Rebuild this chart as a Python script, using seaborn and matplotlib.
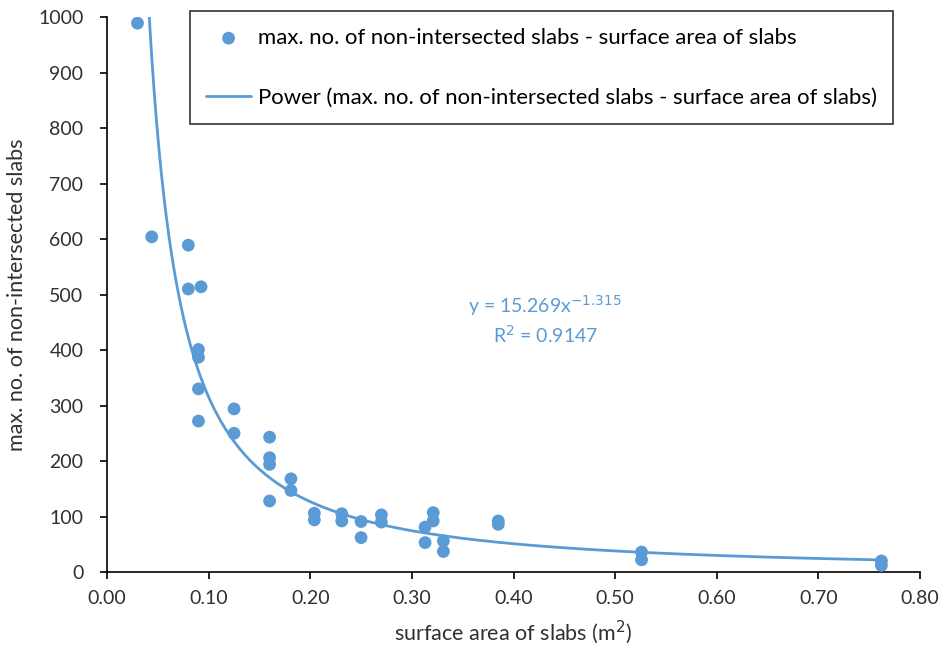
import numpy as np
import pandas as pd
import seaborn as sns
import matplotlib.pyplot as plt

# surface area of slabs (m2) and max. no. of non-intersected slabs
area = [0.030, 0.044, 0.080, 0.080, 0.0925, 0.090, 0.090, 0.090, 0.090,
        0.125, 0.125, 0.160, 0.160, 0.160, 0.160, 0.181, 0.181,
        0.204, 0.204, 0.231, 0.231, 0.250, 0.250, 0.270, 0.270,
        0.313, 0.313, 0.321, 0.321, 0.331, 0.331, 0.385, 0.385,
        0.526, 0.526, 0.762, 0.762]
slabs = [989, 604, 589, 510, 514, 401, 387, 330, 272,
         294, 250, 243, 206, 194, 128, 168, 147,
         106, 94, 105, 92, 91, 62, 103, 90,
         81, 53, 107, 92, 56, 37, 92, 86,
         36, 22, 20, 12]

# power trendline shown on the chart
coef_a = 15.269
coef_b = -1.315
r2 = 0.9147

blue = "#5B9BD5"
dark = "#303030"

sns.set_style("white")
plt.rcParams["font.family"] = ["Lato", "DejaVu Sans"]

df = pd.DataFrame({"area": area, "slabs": slabs})
x_fit = np.linspace((1000 / coef_a) ** (1 / coef_b), max(area), 300)
fit = pd.DataFrame({"area": x_fit, "slabs": coef_a * x_fit ** coef_b})

fig = plt.figure(figsize=(9.47, 6.56), dpi=100)
ax = fig.add_axes([0.113, 0.128, 0.8585, 0.846])

sns.scatterplot(data=df, x="area", y="slabs", ax=ax, color=blue, s=85,
                edgecolor="none", zorder=3,
                label="max. no. of non-intersected slabs - surface area of slabs")
sns.lineplot(data=fit, x="area", y="slabs", ax=ax, color=blue, linewidth=2,
             label="Power (max. no. of non-intersected slabs - surface area of slabs)")

ax.set_xlim(0, 0.8)
ax.set_ylim(0, 1000)
ax.set_xticks(np.arange(0, 0.81, 0.1))
ax.set_yticks(np.arange(0, 1001, 100))
ax.set_xticklabels([f"{v:.2f}" for v in np.arange(0, 0.81, 0.1)])
ax.tick_params(axis="both", which="major", direction="out", length=5, width=1.2,
               color="black", labelsize=14, labelcolor=dark, bottom=True, left=True)
ax.tick_params(axis="y", pad=12)
ax.tick_params(axis="x", pad=8)
for side in ["top", "right"]:
    ax.spines[side].set_visible(False)
for side in ["left", "bottom"]:
    ax.spines[side].set_color("black")
    ax.spines[side].set_linewidth(1.2)

ax.set_xlabel("surface area of slabs (m$^2$)", fontsize=15.5, color=dark, labelpad=8)
ax.set_ylabel("max. no. of non-intersected slabs", fontsize=15.5, color=dark, labelpad=8)

ax.text(0.539, 0.455, f"y = {coef_a}x$^{{{coef_b}}}$\nR$^2$ = {r2}", transform=ax.transAxes,
        ha="center", va="center", fontsize=14, color=blue, linespacing=1.35)

leg = ax.legend(loc="center", bbox_to_anchor=(0.102, 0.804, 0.865, 0.209), mode="expand",
                fontsize=15.9, frameon=True, fancybox=False, edgecolor="black",
                handlelength=2.0, handletextpad=0.35, labelspacing=1.8,
                borderpad=0.75, borderaxespad=0)
leg.get_frame().set_linewidth(1.2)
for t in leg.get_texts():
    t.set_color("black")

fig.savefig("out.png", dpi=100)
